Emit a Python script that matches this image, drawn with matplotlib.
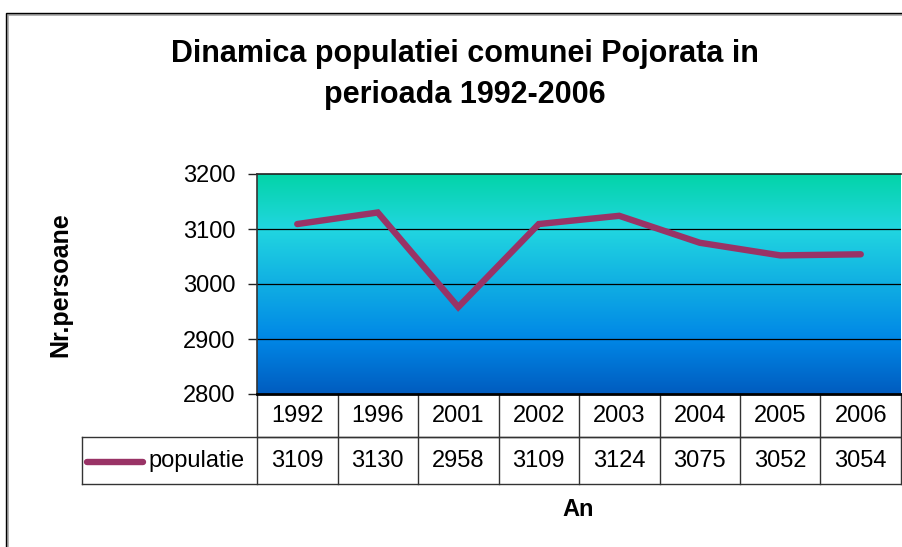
import numpy as np
import matplotlib
matplotlib.use("Agg")
import matplotlib.pyplot as plt
from matplotlib.colors import LinearSegmentedColormap
from matplotlib.patches import Rectangle
from matplotlib.lines import Line2D
import matplotlib.transforms as mtrans

years = ["1992", "1996", "2001", "2002", "2003", "2004", "2005", "2006"]
population = [3109, 3130, 2958, 3109, 3124, 3075, 3052, 3054]
series_name = "populatie"
title = "Dinamica populatiei comunei Pojorata in\nperioada 1992-2006"
ylabel = "Nr.persoane"
xlabel = "An"
yticks = [2800, 2900, 3000, 3100, 3200]

plt.rcParams['font.family'] = ['Liberation Sans', 'DejaVu Sans']

W, H = 903, 547
fig = plt.figure(figsize=(W / 100, H / 100), dpi=100)
fig.patch.set_facecolor("white")

def fx(x):
    return x / W
def fy(y):
    return 1 - y / H

# outer chart border
fig.add_artist(Rectangle((fx(7), fy(600)), fx(1000), fy(14) - fy(600), transform=fig.transFigure,
                         fill=False, edgecolor="#aaaaaa", lw=2.0))
fig.add_artist(Rectangle((fx(6), fy(600)), fx(1000), fy(13) - fy(600), transform=fig.transFigure,
                         fill=False, edgecolor="black", lw=1.0))

left, right, top, bottom = 257, 901, 174, 394
ax = fig.add_axes([fx(left), fy(bottom), fx(right - left), fy(top) - fy(bottom)])

x = np.arange(len(years))
ax.set_xlim(-0.5, len(years) - 0.5)
ax.set_ylim(yticks[0], yticks[-1])

# gradient background (Excel "Ocean"-like)
cmap = LinearSegmentedColormap.from_list("ocean", [(0, "#005CBF"), (0.25, "#0087E6"),
                                                   (0.75, "#21D6E0"), (1.0, "#03D4A8")])
grad = np.linspace(0, 1, 256).reshape(-1, 1)
ax.imshow(grad, cmap=cmap, aspect="auto", origin="lower",
          extent=[-0.5, len(years) - 0.5, yticks[0], yticks[-1]], zorder=0)

for yv in yticks[1:-1]:
    ax.axhline(yv, color="black", lw=0.9, zorder=1)

ax.plot(x, population, color="#993366", lw=4.6, solid_capstyle="round",
        solid_joinstyle="miter", zorder=3)

ax.set_yticks(yticks)
ax.set_yticklabels([str(v) for v in yticks], fontsize=17)
ax.tick_params(axis="y", length=6.5, width=1, color="#222222", pad=9)
ax.set_xticks([])
for s in ["top", "right"]:
    ax.spines[s].set_visible(False)
ax.spines["left"].set_color("#333333")
ax.spines["left"].set_linewidth(1.2)
ax.spines["bottom"].set_color("black")
ax.spines["bottom"].set_linewidth(2)
ax.plot([-0.5, len(years) - 0.5], [yticks[-1]] * 2, color="#222222", lw=1.2, zorder=2, clip_on=False)

# data table under the plot
axh = bottom - top
r1 = -(437 - bottom) / axh
r2 = -(484 - bottom) / axh
legx = -(left - 82) / (right - left)
trb = mtrans.blended_transform_factory(ax.transData, ax.transAxes)
tra = ax.transAxes
lc = "#333333"
ax.add_line(Line2D([0, 1], [r1, r1], transform=tra, color=lc, lw=1, clip_on=False))
ax.add_line(Line2D([legx, 1], [r1, r1], transform=tra, color=lc, lw=1, clip_on=False))
ax.add_line(Line2D([legx, 1], [r2, r2], transform=tra, color=lc, lw=1, clip_on=False))
ax.add_line(Line2D([legx, legx], [r1, r2], transform=tra, color=lc, lw=1, clip_on=False))
for i in range(len(years) + 1):
    ax.add_line(Line2D([i - 0.5, i - 0.5], [0, r2], transform=trb, color=lc, lw=1, clip_on=False))
for i, (yr, v) in enumerate(zip(years, population)):
    ax.text(i, r1 / 2, yr, transform=trb, ha="center", va="center", fontsize=17)
    ax.text(i, (r1 + r2) / 2, str(v), transform=trb, ha="center", va="center", fontsize=17)
# legend key in table
kx0 = -(left - 87) / (right - left)
kx1 = -(left - 143) / (right - left)
ky = -(462 - bottom) / axh
ax.add_line(Line2D([kx0, kx1], [ky, ky], transform=tra, color="#993366", lw=4.6,
                   solid_capstyle="round", clip_on=False))
ax.text(-(left - 148) / (right - left), (r1 + r2) / 2, series_name, transform=tra,
        ha="left", va="center", fontsize=17)

fig.text(fx(465), fy(74.5), title, ha="center", va="center", fontsize=22,
         fontweight="bold", linespacing=1.5)
fig.text(fx(60), fy(285), ylabel, ha="center", va="center", rotation=90,
         fontsize=18, fontweight="bold")
fig.text(fx(578), fy(510), xlabel, ha="center", va="center", fontsize=17, fontweight="bold")

fig.savefig("out.png", dpi=100)
